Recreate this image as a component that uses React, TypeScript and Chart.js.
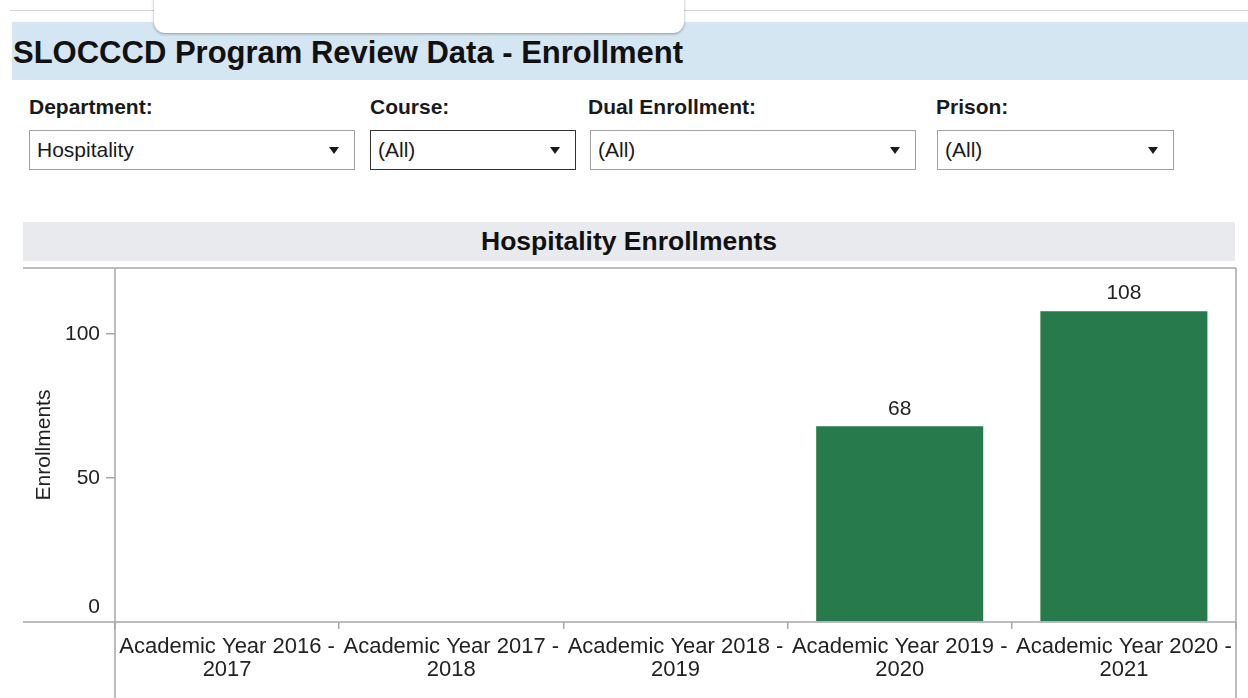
import React, { useEffect, useRef } from "react";
import { Chart, registerables } from "chart.js";

Chart.register(...registerables);

// ---- Data ----
const pageTitle = "SLOCCCD Program Review Data - Enrollment";
const chartTitle = "Hospitality Enrollments";
const yAxisTitle = "Enrollments";
const categories: string[][] = [
  ["Academic Year 2016 -", "2017"],
  ["Academic Year 2017 -", "2018"],
  ["Academic Year 2018 -", "2019"],
  ["Academic Year 2019 -", "2020"],
  ["Academic Year 2020 -", "2021"],
];
const enrollments: (number | null)[] = [null, null, null, 68, 108];
const yTicks = [0, 50, 100];
const yMax = 123;
const filterLabels = ["Department:", "Course:", "Dual Enrollment:", "Prison:"];
const filterValues = ["Hospitality", "(All)", "(All)", "(All)"];

const FONT = '"Liberation Sans", Arial, Helvetica, sans-serif';
const AXIS_GRAY = "#a8a8a8";
const BAR_GREEN = "#277a4b";

const filterBoxes = [
  { labelX: 29, x: 29, w: 326, focused: false },
  { labelX: 370, x: 370, w: 206, focused: true },
  { labelX: 588, x: 590, w: 326, focused: false },
  { labelX: 936, x: 937, w: 237, focused: false },
];

export default function App() {
  const canvasRef = useRef<HTMLCanvasElement | null>(null);

  useEffect(() => {
    document.body.style.margin = "0";
    const canvas = canvasRef.current;
    if (!canvas) return;

    const frame = {
      id: "tableauFrame",
      afterDraw(chart: any) {
        const { ctx, chartArea } = chart;
        const h = chart.height;
        ctx.save();
        ctx.strokeStyle = AXIS_GRAY;
        ctx.lineWidth = 1.5;
        ctx.beginPath();
        // top pane border
        ctx.moveTo(23, chartArea.top);
        ctx.lineTo(chartArea.right, chartArea.top);
        // right pane border
        ctx.moveTo(chartArea.right, chartArea.top);
        ctx.lineTo(chartArea.right, h);
        // x axis line
        ctx.moveTo(23, chartArea.bottom);
        ctx.lineTo(chartArea.right, chartArea.bottom);
        // y axis line
        ctx.moveTo(chartArea.left, chartArea.top);
        ctx.lineTo(chartArea.left, h);
        ctx.stroke();

        // zero tick label (Tableau shifts it above the axis)
        const ys = chart.scales.y;
        ctx.fillStyle = "#222";
        ctx.font = `21px ${FONT}`;
        ctx.textAlign = "right";
        ctx.textBaseline = "middle";
        ctx.fillText("0", chartArea.left - 15, ys.getPixelForValue(0) - 15);

        // value labels
        const meta = chart.getDatasetMeta(0);
        ctx.textAlign = "center";
        ctx.textBaseline = "bottom";
        meta.data.forEach((bar: any, i: number) => {
          const v = enrollments[i];
          if (v == null) return;
          ctx.fillText(String(v), bar.x, bar.y - 7);
        });
        ctx.restore();
      },
    };

    const chart = new Chart(canvas, {
      type: "bar",
      data: {
        labels: categories,
        datasets: [
          {
            data: enrollments,
            backgroundColor: BAR_GREEN,
            barPercentage: 0.745,
            categoryPercentage: 1,
          },
        ],
      },
      options: {
        responsive: false,
        animation: false,
        devicePixelRatio: 1,
        layout: { padding: { top: 6, right: 12, left: 0, bottom: 0 } },
        plugins: {
          legend: { display: false },
          tooltip: { enabled: false },
          title: { display: false },
        },
        scales: {
          x: {
            offset: true,
            border: { display: false },
            grid: {
              offset: true,
              drawOnChartArea: false,
              drawTicks: true,
              tickLength: 7,
              color: AXIS_GRAY,
              lineWidth: 1.5,
            },
            ticks: {
              color: "#222",
              font: { family: FONT, size: 22, lineHeight: 1.05 },
              maxRotation: 0,
              minRotation: 0,
              autoSkip: false,
              padding: 6,
            },
            afterFit: (s: any) => {
              s.height = 76;
              s.paddingLeft = 0;
              s.paddingRight = 0;
            },
          },
          y: {
            min: 0,
            max: yMax,
            border: { display: false },
            afterBuildTicks: (s: any) => {
              s.ticks = yTicks.map((v) => ({ value: v }));
            },
            grid: {
              drawOnChartArea: false,
              drawTicks: true,
              tickLength: 9,
              color: (c: any) => (c.tick && c.tick.value === 0 ? "rgba(0,0,0,0)" : AXIS_GRAY),
              lineWidth: 1.5,
            },
            ticks: {
              color: "#222",
              font: { family: FONT, size: 21 },
              padding: 6,
              callback: (v: any) => (Number(v) === 0 ? "" : String(v)),
            },
            title: {
              display: true,
              text: yAxisTitle,
              color: "#222",
              font: { family: FONT, size: 21 },
              padding: { top: 32, bottom: 0 },
            },
            afterFit: (s: any) => {
              s.width = 115;
              s.paddingTop = 0;
              s.paddingBottom = 0;
            },
          },
        },
      },
      plugins: [frame],
    });

    return () => chart.destroy();
  }, []);

  return (
    <div
      style={{
        position: "fixed",
        left: 0,
        top: 0,
        width: 1248,
        height: 698,
        overflow: "hidden",
        background: "#fff",
        fontFamily: FONT,
        color: "#111",
      }}
    >
      {/* top rule */}
      <div style={{ position: "absolute", left: 10, top: 10, width: 1238, height: 1, background: "#d4d4d4" }} />
      {/* header band */}
      <div
        style={{
          position: "absolute",
          left: 12,
          top: 22,
          width: 1236,
          height: 58,
          background: "#d5e6f3",
        }}
      />
      <div
        style={{
          position: "absolute",
          left: 13,
          top: 34,
          fontSize: 31,
          fontWeight: "bold",
          lineHeight: "38px",
          whiteSpace: "nowrap",
          color: "#111",
        }}
      >
        {pageTitle}
      </div>
      {/* floating tooltip box */}
      <div
        style={{
          position: "absolute",
          left: 154,
          top: -12,
          width: 530,
          height: 45,
          background: "#fff",
          borderRadius: 11,
          boxShadow: "0 1px 3px rgba(0,0,0,0.35)",
        }}
      />
      {/* filters */}
      {filterLabels.map((lab, i) => (
        <div
          key={"l" + i}
          style={{
            position: "absolute",
            left: filterBoxes[i].labelX,
            top: 94,
            fontSize: 21,
            fontWeight: "bold",
            lineHeight: "26px",
            whiteSpace: "nowrap",
            color: "#1a1a1a",
          }}
        >
          {lab}
        </div>
      ))}
      {filterValues.map((val, i) => {
        const b = filterBoxes[i];
        return (
          <div
            key={"b" + i}
            style={{
              position: "absolute",
              left: b.x,
              top: 130,
              width: b.w,
              height: 40,
              boxSizing: "border-box",
              border: b.focused ? "1.5px solid #333" : "1.5px solid #a0a0a0",
              background: "#fff",
            }}
          >
            <div
              style={{
                position: "absolute",
                left: 7,
                top: 0,
                lineHeight: "38px",
                fontSize: 21,
                color: "#1a1a1a",
                whiteSpace: "nowrap",
              }}
            >
              {val}
            </div>
            <div
              style={{
                position: "absolute",
                right: 15,
                top: 16,
                width: 0,
                height: 0,
                borderLeft: "5px solid transparent",
                borderRight: "5px solid transparent",
                borderTop: "7px solid #1a1a1a",
              }}
            />
          </div>
        );
      })}
      {/* chart title band */}
      <div
        style={{
          position: "absolute",
          left: 23,
          top: 222,
          width: 1212,
          height: 39,
          background: "#e9eaee",
          display: "flex",
          alignItems: "center",
          justifyContent: "center",
          fontSize: 26.5,
          fontWeight: "bold",
          color: "#111",
          whiteSpace: "nowrap",
        }}
      >
        {chartTitle}
      </div>
      <canvas
        ref={canvasRef}
        width={1248}
        height={436}
        style={{ position: "absolute", left: 0, top: 262, width: 1248, height: 436 }}
      />
    </div>
  );
}
